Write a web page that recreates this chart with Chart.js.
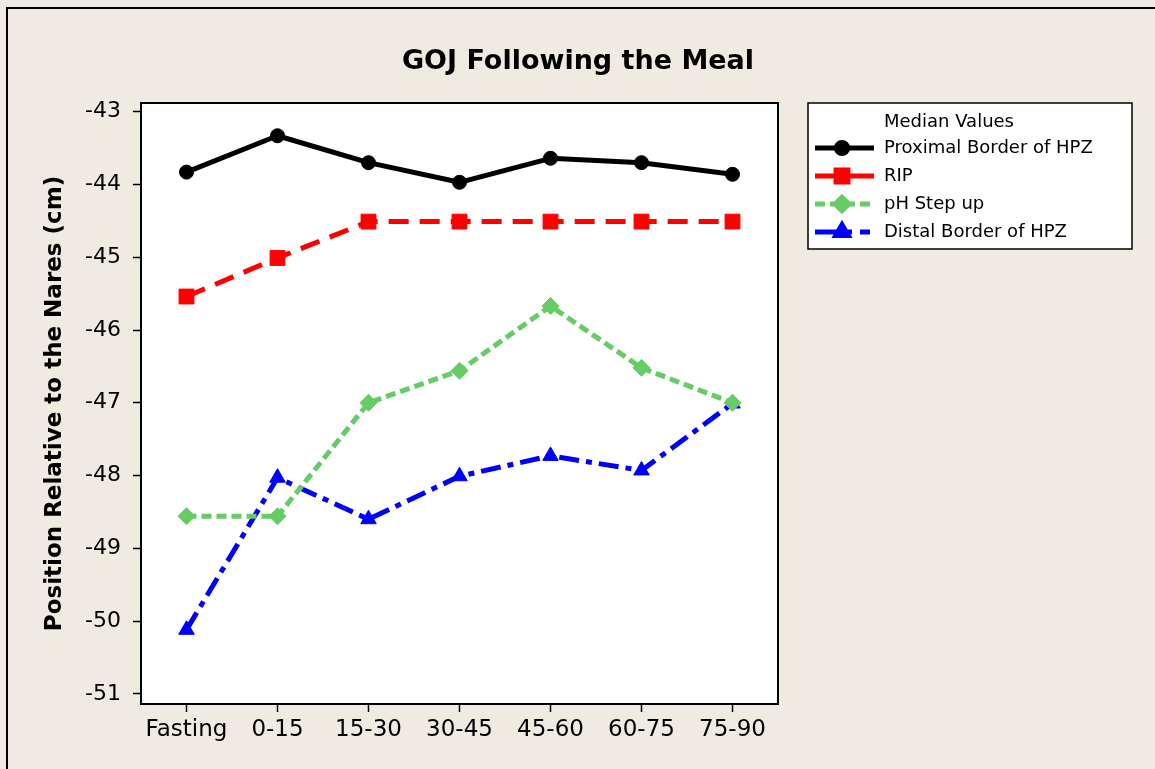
<!DOCTYPE html>
<html>
<head>
<meta charset="utf-8">
<script src="https://cdn.jsdelivr.net/npm/chart.js@4.4.1/dist/chart.umd.min.js"></script>
<style>
  html, body { margin: 0; padding: 0; background: #EFEBE1; }
  #wrap { width: 1155px; height: 769px; position: relative; }
</style>
</head>
<body>
<div id="wrap"><canvas id="c" width="1155" height="769"></canvas></div>
<script>
// Sampling periods around the meal
const categories = ['Fasting', '0-15', '15-30', '30-45', '45-60', '60-75', '75-90'];

// Median positions relative to the nares (cm)
const proximalHPZ = [-43.83, -43.33, -43.70, -43.97, -43.64, -43.70, -43.86];
const ripValues   = [-45.54, -45.01, -44.51, -44.51, -44.51, -44.51, -44.51];
const phStepUp    = [-48.56, -48.56, -47.00, -46.56, -45.67, -46.52, -47.00];
const distalHPZ   = [-50.12, -48.03, -48.60, -48.01, -47.73, -47.93, -47.01];

const yTickValues = [-51, -50, -49, -48, -47, -46, -45, -44, -43];
const yRange = { min: -51.14, max: -42.88 };

const seriesNames = ['Proximal Border of HPZ', 'RIP', 'pH Step up', 'Distal Border of HPZ'];
const legendHeader = 'Median Values';
const chartTitle = 'GOJ Following the Meal';
const yAxisTitle = 'Position Relative to the Nares (cm)';

const FONT = '"DejaVu Sans", Tahoma, Verdana, sans-serif';
const BG = '#EFEBE1';

// Page background, outer frame, white plot panel and its border
const framePlugin = {
  id: 'framePlugin',
  beforeDraw(chart) {
    const ctx = chart.ctx;
    const a = chart.chartArea;
    ctx.save();
    ctx.fillStyle = BG;
    ctx.fillRect(0, 0, chart.width, chart.height);
    ctx.strokeStyle = '#000';
    ctx.lineWidth = 2;
    ctx.beginPath();
    ctx.moveTo(7, chart.height + 5);
    ctx.lineTo(7, 8);
    ctx.lineTo(chart.width + 5, 8);
    ctx.stroke();
    ctx.fillStyle = '#fff';
    ctx.fillRect(a.left, a.top, a.right - a.left, a.bottom - a.top);
    ctx.restore();
  },
  afterDatasetsDraw(chart) {
    const ctx = chart.ctx;
    const a = chart.chartArea;
    ctx.save();
    ctx.strokeStyle = '#000';
    ctx.lineWidth = 2;
    ctx.strokeRect(a.left, a.top, a.right - a.left, a.bottom - a.top);
    ctx.restore();
  },
  afterDraw(chart) {
    const ctx = chart.ctx;
    ctx.save();
    // Title
    ctx.fillStyle = '#000';
    ctx.font = 'bold 27px ' + FONT;
    ctx.textAlign = 'center';
    ctx.textBaseline = 'middle';
    ctx.fillText(chartTitle, 578, 62);

    // Legend box
    const bx = 808, by = 103, bw = 324, bh = 146;
    ctx.fillStyle = '#fff';
    ctx.fillRect(bx, by, bw, bh);
    ctx.strokeStyle = '#000';
    ctx.lineWidth = 1.5;
    ctx.strokeRect(bx, by, bw, bh);

    ctx.fillStyle = '#000';
    ctx.font = '18px ' + FONT;
    ctx.textAlign = 'left';
    ctx.textBaseline = 'middle';
    ctx.fillText(legendHeader, 884, 122);

    chart.data.datasets.forEach((ds, i) => {
      const y = 148 + i * 28;
      ctx.save();
      ctx.strokeStyle = ds.borderColor;
      ctx.lineWidth = ds.borderWidth;
      ctx.setLineDash(ds.legendDash || []);
      ctx.beginPath();
      ctx.moveTo(815, y);
      ctx.lineTo(874, y);
      ctx.stroke();
      ctx.setLineDash([]);
      ctx.fillStyle = ds.pointBackgroundColor;
      ctx.strokeStyle = ds.pointBorderColor;
      Chart.helpers.drawPoint(ctx, {
        pointStyle: ds.pointStyle,
        radius: ds.pointRadius * 0.8,
        rotation: 0,
        borderWidth: ds.pointBorderWidth
      }, 842, y);
      ctx.restore();
      ctx.fillStyle = '#000';
      ctx.fillText(ds.label, 884, y);
    });
    ctx.restore();
  }
};

function series(label, data, color, dash, legendDash, style, radius) {
  return {
    label, data,
    borderColor: color,
    backgroundColor: color,
    borderWidth: 5,
    borderDash: dash,
    legendDash,
    borderCapStyle: 'butt',
    borderJoinStyle: 'round',
    tension: 0,
    fill: false,
    pointStyle: style,
    pointRadius: radius,
    pointHoverRadius: radius,
    pointBackgroundColor: color,
    pointBorderColor: color,
    pointBorderWidth: 1
  };
}

new Chart(document.getElementById('c'), {
  type: 'line',
  data: {
    labels: categories,
    datasets: [
      series(seriesNames[0], proximalHPZ, '#000000', [], [], 'circle', 7),
      series(seriesNames[1], ripValues, '#FF0000', [20, 11], [], 'rect', 10.5),
      series(seriesNames[2], phStepUp, '#66CC66', [10, 5], [10, 5], 'rectRot', 8.5),
      series(seriesNames[3], distalHPZ, '#0000FF', [20, 7, 6, 7], [37, 8, 10, 8], 'triangle', 9)
    ]
  },
  options: {
    responsive: false,
    animation: false,
    layout: { padding: { left: 0, top: 103, right: 377, bottom: 0 } },
    plugins: {
      legend: { display: false },
      title: { display: false },
      tooltip: { enabled: false }
    },
    scales: {
      x: {
        type: 'category',
        offset: true,
        border: { display: false },
        grid: {
          display: true,
          offset: false,
          drawOnChartArea: false,
          drawTicks: true,
          tickLength: 8,
          tickColor: '#000',
          tickWidth: 1.5
        },
        ticks: {
          color: '#000',
          padding: 4,
          maxRotation: 0,
          autoSkip: false,
          font: { family: FONT, size: 23 }
        },
        afterFit(scale) { scale.height = 65; }
      },
      y: {
        min: yRange.min,
        max: yRange.max,
        border: { display: false },
        grid: {
          display: true,
          drawOnChartArea: false,
          drawTicks: true,
          tickLength: 8,
          tickColor: '#000',
          tickWidth: 1.5
        },
        ticks: {
          color: '#000',
          padding: 12,
          font: { family: FONT, size: 22 },
          callback: (v) => String(v)
        },
        afterBuildTicks(scale) {
          scale.ticks = yTickValues.map(v => ({ value: v }));
        },
        title: {
          display: true,
          text: yAxisTitle,
          color: '#000',
          font: { family: FONT, size: 23, weight: 'bold' },
          padding: { top: 41, bottom: 0 }
        },
        afterFit(scale) { scale.width = 141; }
      }
    }
  },
  plugins: [framePlugin]
});
</script>
</body>
</html>
